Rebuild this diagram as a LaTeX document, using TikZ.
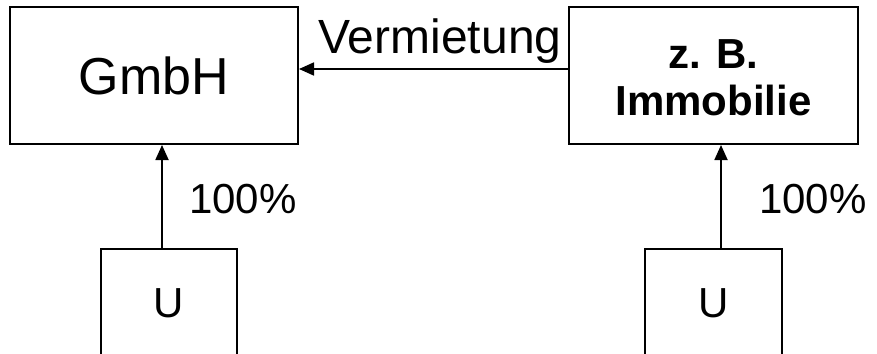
\documentclass[tikz,border=0pt]{standalone}
\usepackage{fontspec}
\setmainfont{Liberation Sans}
\usepackage{tikz}
\usetikzlibrary{arrows.meta}

\begin{document}
\begin{tikzpicture}[x=1pt,y=-1pt,
        box/.style={draw,line width=2pt,inner sep=0pt},
        arr/.style={line width=1.8pt,-{Triangle[length=15pt,width=13pt]}},
        lbl/.style={inner sep=0pt}]
        \useasboundingbox (0,0) rectangle (877,353);
        \clip (0,0) rectangle (877,353);
        \node[box,minimum width=288pt,minimum height=137pt,font=\fontsize{52}{60}\selectfont] (gmbh) at (154,75.5) {GmbH};
        \node[box,minimum width=289pt,minimum height=137pt] (immo) at (713.5,75.5) {};
        \node[lbl,align=center,font=\fontsize{42}{47}\selectfont\bfseries] (immotext) at (713.5,78) {z. B.\\Immobilie};
        \node[box,minimum width=136pt,minimum height=108pt,font=\fontsize{42}{50}\selectfont] (uleft) at (169,303) {U};
        \node[box,minimum width=137pt,minimum height=108pt,font=\fontsize{42}{50}\selectfont] (uright) at (713.5,303) {U};
        \draw[arr] ([yshift=6.5pt]immo.west) -- ([yshift=6.5pt]immo.west -| gmbh.east);
        \draw[arr] ([xshift=-7pt]uleft.north) -- ([xshift=-7pt]uleft.north |- gmbh.south);
        \draw[arr] ([xshift=7.5pt]uright.north) -- ([xshift=7.5pt]uright.north |- immo.south);
        \node[lbl,anchor=base,font=\fontsize{48}{56}\selectfont] (verm) at (440,53) {Vermietung};
        \node[lbl,anchor=base west,font=\fontsize{42}{50}\selectfont] (pleft) at (189,213) {100\%};
        \node[lbl,anchor=base west,font=\fontsize{42}{50}\selectfont] (pright) at (759,213) {100\%};
    \end{tikzpicture}
\end{document}
